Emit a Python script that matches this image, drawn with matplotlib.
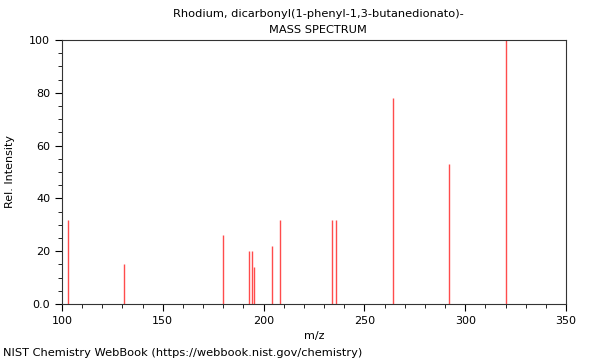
# NIST style mass spectrum
import matplotlib
matplotlib.use('Agg')
import matplotlib.pyplot as plt
from matplotlib.ticker import MultipleLocator
import numpy as np

# peaks
mz = [103, 131, 180, 193, 194, 195, 204, 208, 234, 236, 264, 292, 320]
intensity = [32, 15, 26, 20, 20, 14, 22, 32, 32, 32, 78, 53, 100]

title_lines = ['Rhodium, dicarbonyl(1-phenyl-1,3-butanedionato)-', 'MASS SPECTRUM']
footer = 'NIST Chemistry WebBook (https://webbook.nist.gov/chemistry)'

fig = plt.figure(figsize=(6, 3.6), dpi=100)
ax = fig.add_axes([62/600, 1 - 304/360, 504/600, 264/360])

ax.vlines(mz, 0, intensity, colors='#ff4c4c', linewidth=1)

ax.set_xlim(100, 350)
ax.set_ylim(0, 100)
ax.xaxis.set_major_locator(MultipleLocator(50))
ax.xaxis.set_minor_locator(MultipleLocator(10))
ax.yaxis.set_major_locator(MultipleLocator(20))
ax.yaxis.set_minor_locator(MultipleLocator(5))

def ylab(v, pos):
    return '0.0' if v == 0 else '%d' % v
ax.yaxis.set_major_formatter(plt.FuncFormatter(ylab))

ax.tick_params(which='both', direction='out', top=False, right=False, labelsize=8)
ax.tick_params(which='major', length=5)
ax.tick_params(which='minor', length=3)
for s in ax.spines.values():
    s.set_linewidth(0.8)
    s.set_color('#333333')

ax.set_xlabel('m/z', fontsize=8)
ax.set_ylabel('Rel. Intensity', fontsize=8, labelpad=10)

fig.text(0.53, 1 - 14/360, title_lines[0], ha='center', va='center', fontsize=8.2)
fig.text(0.53, 1 - 30/360, title_lines[1], ha='center', va='center', fontsize=8.2)
fig.text(3/600, 1 - 353/360, footer, ha='left', va='center', fontsize=8.2)

fig.savefig('out.png', dpi=100)
